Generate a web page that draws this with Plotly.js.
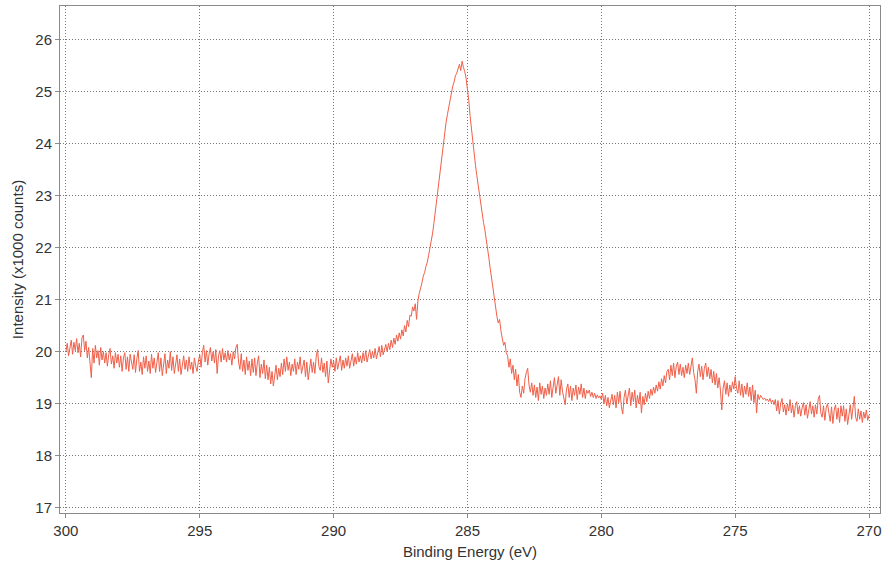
<!DOCTYPE html>
<html>
<head>
<meta charset="utf-8">
<script src="https://cdn.plot.ly/plotly-3.0.1.min.js"></script>
<style>html,body{margin:0;padding:0;background:#fff;}#chart{width:883px;height:565px;}</style>
</head>
<body>
<div id="chart"></div>
<script>
// Binding energy grid: starts at 300 eV, step -0.05 eV (601 points down to 270 eV)
const energyStart = 300;
const energyStep = -0.05;
// Intensity (x1000 counts), one value per 0.05 eV, 10 values per 0.5 eV row
const intensity = [
20.00,20.16,19.92,20.12,20.22,19.95,20.18,20.02,20.25,19.98,
20.16,19.90,20.26,20.32,20.02,20.20,19.88,20.08,19.80,19.50,
20.06,19.78,20.12,19.88,20.02,19.74,20.08,19.84,20.00,19.78,
19.98,19.72,19.94,20.06,19.76,19.92,19.68,19.98,19.78,19.95,
19.70,19.92,19.62,19.88,19.98,19.66,19.90,19.62,19.95,19.76,
19.66,19.94,19.60,19.86,20.02,19.62,19.80,19.56,19.90,19.68,
19.92,19.62,19.82,19.58,19.95,19.68,19.88,19.60,19.80,19.98,
19.62,19.88,19.54,19.78,19.96,19.58,19.84,19.68,20.00,19.64,
19.90,19.58,19.80,19.94,19.62,19.86,19.56,19.76,19.92,19.66,
19.84,19.62,19.90,19.66,19.80,19.58,19.88,19.72,19.62,19.82,
19.94,19.70,20.00,20.12,19.80,20.02,19.74,19.96,20.08,19.82,
20.00,19.78,20.04,19.58,19.92,20.02,19.80,20.06,19.84,19.98,
19.80,20.02,19.84,19.96,19.74,20.00,19.86,20.08,20.14,19.80,
19.66,19.96,19.62,19.84,19.56,19.90,19.64,19.82,19.54,19.86,
19.60,19.88,19.54,19.78,19.92,19.50,19.76,19.58,19.84,19.48,
19.74,19.46,19.70,19.38,19.62,19.34,19.58,19.74,19.46,19.68,
19.52,19.78,19.56,19.86,19.62,19.90,19.64,19.80,19.54,19.76,
19.62,19.86,19.56,19.80,19.66,19.90,19.58,19.76,19.84,19.52,
19.80,19.46,19.72,19.86,19.60,19.80,19.58,19.90,20.04,19.72,
19.64,19.88,19.60,19.78,19.52,19.82,19.40,19.66,19.86,19.70,
19.82,19.62,19.88,19.66,19.78,19.92,19.64,19.84,19.68,19.88,
19.72,19.92,19.68,19.86,19.96,19.72,19.90,19.76,19.98,19.80,
19.92,19.78,19.98,19.82,20.02,19.80,19.96,20.04,19.86,20.00,
19.88,20.06,19.86,20.02,20.10,19.90,20.12,19.94,20.08,20.14,
20.00,20.16,20.04,20.22,20.08,20.26,20.14,20.32,20.20,20.36,
20.24,20.42,20.30,20.50,20.38,20.60,20.48,20.70,20.68,20.86,
20.78,20.92,20.62,20.98,21.12,21.20,21.32,21.45,21.52,21.64,
21.72,21.85,21.98,22.10,22.28,22.48,22.70,22.95,23.18,23.42,
23.62,23.82,24.02,24.22,24.40,24.55,24.70,24.84,24.98,25.10,
25.18,25.30,25.35,25.44,25.52,25.40,25.58,25.46,25.38,25.25,
25.08,24.82,24.52,24.25,24.00,23.78,23.58,23.38,23.18,23.00,
22.80,22.64,22.48,22.34,22.18,22.00,21.80,21.60,21.40,21.22,
21.02,20.82,20.68,20.55,20.62,20.40,20.22,20.12,20.18,19.98,
19.92,19.70,19.86,19.58,19.74,19.46,19.66,19.34,19.56,19.22,
19.12,19.34,19.20,19.48,19.60,19.68,19.36,19.22,19.40,19.16,
19.36,19.12,19.32,19.06,19.40,19.18,19.34,19.10,19.30,19.16,
19.38,19.18,19.44,19.12,19.32,19.50,19.20,19.42,19.52,19.16,
19.46,19.24,19.10,18.98,19.28,19.38,19.12,19.34,19.06,19.30,
19.16,19.36,19.08,19.32,19.18,19.38,19.12,19.30,19.10,19.26,
19.20,19.26,19.14,19.22,19.12,19.20,19.10,19.17,19.11,19.15,
19.08,19.20,19.00,19.16,18.96,19.12,18.92,19.10,19.18,18.98,
19.16,18.92,19.22,19.02,19.24,18.94,18.80,19.12,19.26,19.00,
19.18,19.30,18.96,19.22,19.04,19.26,18.92,19.16,19.00,19.22,
18.82,19.14,18.98,19.20,19.04,19.24,19.10,19.28,19.16,19.32,
19.20,19.36,19.24,19.42,19.28,19.48,19.34,19.54,19.40,19.62,
19.66,19.46,19.74,19.54,19.78,19.50,19.72,19.80,19.56,19.76,
19.54,19.70,19.50,19.74,19.58,19.78,19.56,19.72,19.88,19.60,
19.46,19.20,19.62,19.76,19.52,19.72,19.46,19.68,19.78,19.52,
19.70,19.48,19.66,19.40,19.62,19.36,19.58,19.30,19.50,19.26,
18.88,19.30,19.44,19.18,19.40,19.14,19.36,19.22,19.42,19.28,
19.52,19.30,19.20,19.44,19.16,19.38,19.12,19.34,19.18,19.40,
19.14,19.32,19.06,19.36,19.02,19.26,18.82,19.18,19.08,19.16,
19.12,19.08,19.11,19.06,19.09,19.04,19.10,19.02,19.07,18.98,
19.08,18.86,19.06,18.80,19.00,19.10,18.84,18.98,18.78,19.00,
18.86,19.08,18.82,18.98,18.74,18.96,19.04,18.80,18.96,18.76,
18.92,19.02,18.78,18.98,18.72,18.94,19.04,18.80,18.96,18.74,
18.98,18.80,19.08,19.16,18.82,18.74,18.96,18.68,18.92,19.00,
18.78,18.66,18.94,18.62,18.88,18.98,18.70,18.92,18.64,18.96,
18.76,18.96,18.66,18.90,18.60,18.86,18.98,18.70,18.94,19.14,
18.74,18.66,18.90,18.70,18.86,18.64,18.84,18.72,18.88,18.68,
18.78
];
const xTickVals = [300, 295, 290, 285, 280, 275, 270];
const yTickVals = [17, 18, 19, 20, 21, 22, 23, 24, 25, 26];

const trace = {
  type: 'scatter',
  mode: 'lines',
  x0: energyStart,
  dx: energyStep,
  y: intensity,
  line: {color: '#f0604a', width: 1},
  hoverinfo: 'x+y'
};

const axisCommon = {
  showline: true,
  mirror: true,
  linecolor: '#8a8a8a',
  linewidth: 1,
  showgrid: true,
  gridcolor: '#777777',
  griddash: '1px,2px',
  gridwidth: 1,
  zeroline: false,
  ticks: 'outside',
  ticklen: 4,
  tickcolor: '#8a8a8a',
  tickfont: {size: 15, color: '#333333'}
};

const layout = {
  width: 883,
  height: 565,
  margin: {l: 60, r: 3, t: 6, b: 52},
  paper_bgcolor: '#ffffff',
  plot_bgcolor: '#ffffff',
  font: {family: 'Liberation Sans, Arial, sans-serif', color: '#333333'},
  showlegend: false,
  xaxis: Object.assign({}, axisCommon, {
    range: [300.22, 269.59],
    tickmode: 'array',
    tickvals: xTickVals,
    ticktext: xTickVals.map(String),
    title: {text: 'Binding Energy (eV)', font: {size: 15, color: '#333333'}, standoff: 8}
  }),
  yaxis: Object.assign({}, axisCommon, {
    range: [16.9, 26.64],
    tickmode: 'array',
    tickvals: yTickVals,
    ticktext: yTickVals.map(String),
    title: {text: 'Intensity (x1000 counts)', font: {size: 15, color: '#333333'}, standoff: 8}
  })
};

Plotly.newPlot('chart', [trace], layout, {displayModeBar: false, staticPlot: true});
</script>
</body>
</html>
